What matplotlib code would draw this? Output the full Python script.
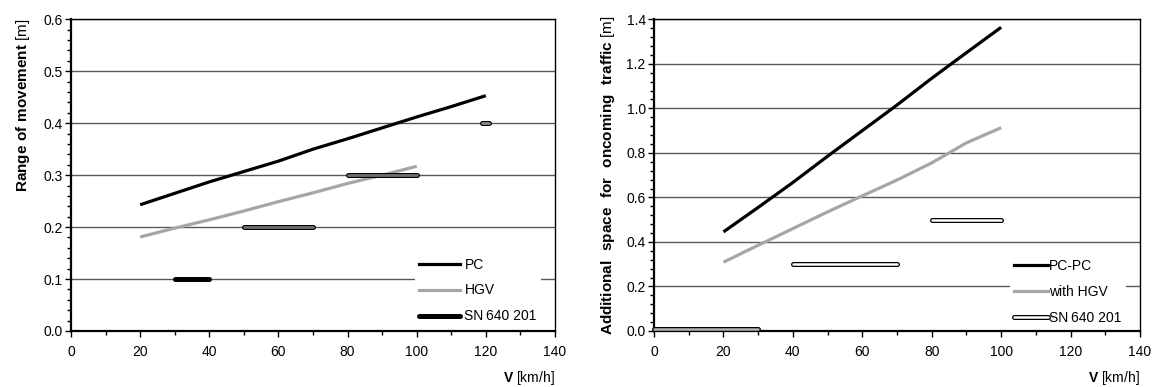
import matplotlib
matplotlib.use("Agg")
import matplotlib.pyplot as plt
import matplotlib.patheffects as pe
from matplotlib.lines import Line2D
from matplotlib.ticker import MultipleLocator, FormatStrFormatter

plt.rcParams['font.family'] = ['Liberation Sans', 'DejaVu Sans']
plt.rcParams['mathtext.fontset'] = 'custom'
plt.rcParams['mathtext.rm'] = 'Liberation Sans'
plt.rcParams['mathtext.bf'] = 'Liberation Sans:bold'

# ---------------- data ----------------
speed = [20, 30, 40, 50, 60, 70, 80, 90, 100, 110, 120]
pc_range = [0.243, 0.265, 0.287, 0.307, 0.327, 0.350, 0.370, 0.391, 0.412, 0.432, 0.453]
speed_hgv = [20, 30, 40, 50, 60, 70, 80, 90, 100]
hgv_range = [0.181, 0.198, 0.214, 0.231, 0.249, 0.266, 0.284, 0.300, 0.317]
sn_left_x0 = [30, 50, 80, 119]
sn_left_x1 = [40, 70, 100, 121]
sn_left_y = [0.1, 0.2, 0.3, 0.4]

speed_r = [20, 30, 40, 50, 60, 70, 80, 90, 100]
pcpc_space = [0.445, 0.555, 0.667, 0.785, 0.900, 1.015, 1.135, 1.250, 1.364]
hgv_space = [0.309, 0.385, 0.460, 0.535, 0.607, 0.678, 0.755, 0.845, 0.913]
sn_right_x0 = [0, 40, 80]
sn_right_x1 = [30, 70, 100]
sn_right_y = [0.01, 0.3, 0.5]

xticks = [0, 20, 40, 60, 80, 100, 120, 140]

# ---------------- figure ----------------
W, H = 1157, 387
fig = plt.figure(figsize=(W / 100, H / 100), dpi=100)
bottom = 1 - 331 / H
top = 1 - 19.3 / H
ax1 = fig.add_axes([71 / W, bottom, 484 / W, top - bottom])
ax2 = fig.add_axes([654 / W, bottom, 486 / W, top - bottom])

FS = 10
LFS = 11
GRID = '#5a5a5a'
GRAY = '#a6a6a6'


def style_axes(ax, ymax, ymajor, yminor):
    ax.set_xlim(0, 140)
    ax.set_ylim(0, ymax)
    ax.set_xticks(xticks)
    ax.xaxis.set_minor_locator(MultipleLocator(10))
    ax.yaxis.set_major_locator(MultipleLocator(ymajor))
    ax.yaxis.set_minor_locator(MultipleLocator(yminor))
    ax.yaxis.set_major_formatter(FormatStrFormatter('%.1f'))
    ax.tick_params(axis='both', which='major', direction='out', length=4, width=1,
                   labelsize=FS, pad=2, color='black')
    ax.tick_params(axis='both', which='minor', direction='out', length=3, width=1,
                   color='black')
    ax.tick_params(axis='x', which='major', pad=6)
    ax.grid(axis='y', which='major', color=GRID, lw=1.0, zorder=0)
    ax.set_axisbelow(True)
    for s in ['left', 'bottom']:
        ax.spines[s].set_linewidth(1.6)
    for s in ['top', 'right']:
        ax.spines[s].set_linewidth(1.0)
    ax.set_xlabel(r'$\mathbf{V}$ [km/h]', fontsize=FS, loc='right', labelpad=7)


style_axes(ax1, 0.6, 0.1, 0.02)
style_axes(ax2, 1.4, 0.2, 0.04)

ax1.set_ylabel(r'$\mathbf{Range\ of\ movement}$ [m]', fontsize=LFS, labelpad=8, y=0.725)
ax2.set_ylabel(r'$\mathbf{Additional\ \ space\ \ for\ \ oncoming\ \ traffic}$ [m]',
               fontsize=LFS, labelpad=7)

# ---------------- left chart ----------------
ax1.plot(speed, pc_range, color='black', lw=2.3, zorder=4, solid_capstyle='butt')
ax1.plot(speed_hgv, hgv_range, color=GRAY, lw=2.3, zorder=3, solid_capstyle='butt')

left_fill = ['black', '#707070', '#707070', '#8a8a8a']
for x0, x1, y, fc in zip(sn_left_x0, sn_left_x1, sn_left_y, left_fill):
    ax1.plot([x0, x1], [y, y], color=fc, lw=2.0, solid_capstyle='round', zorder=5,
             path_effects=[pe.Stroke(linewidth=3.6, foreground='black'), pe.Normal()])

h_pc = Line2D([], [], color='black', lw=2.3)
h_hgv = Line2D([], [], color=GRAY, lw=2.3)
h_sn = Line2D([], [], color='black', lw=3.6, solid_capstyle='round')
leg1 = ax1.legend([h_pc, h_hgv, h_sn], ['PC', 'HGV', 'SN\u2009640 201'],
                  loc='center left', bbox_to_anchor=(0.711, 0.13),
                  fontsize=FS, frameon=True, facecolor='white', edgecolor='none',
                  framealpha=1, fancybox=False, borderpad=0.3, borderaxespad=0,
                  handlelength=2.9, handletextpad=0.35, labelspacing=0.86)

# ---------------- right chart ----------------
ax2.plot(speed_r, pcpc_space, color='black', lw=2.3, zorder=4, solid_capstyle='butt')
ax2.plot(speed_r, hgv_space, color=GRAY, lw=2.3, zorder=3, solid_capstyle='butt')

right_fill = ['#b4b4b4', 'white', 'white']
for x0, x1, y, fc in zip(sn_right_x0, sn_right_x1, sn_right_y, right_fill):
    ax2.plot([x0, x1], [y, y], color=fc, lw=1.8, solid_capstyle='round', zorder=5,
             path_effects=[pe.Stroke(linewidth=3.6, foreground='black'), pe.Normal()],
             clip_on=False)

h_pcpc = Line2D([], [], color='black', lw=2.3)
h_whgv = Line2D([], [], color=GRAY, lw=2.3)
h_sn2 = Line2D([], [], color='white', lw=1.8, solid_capstyle='round',
               path_effects=[pe.Stroke(linewidth=3.6, foreground='black'), pe.Normal()])
leg2 = ax2.legend([h_pcpc, h_whgv, h_sn2], ['PC-PC', 'with HGV', 'SN\u2009640 201'],
                  loc='center left', bbox_to_anchor=(0.733, 0.125),
                  fontsize=FS, frameon=True, facecolor='white', edgecolor='none',
                  framealpha=1, fancybox=False, borderpad=0.3, borderaxespad=0,
                  handlelength=2.4, handletextpad=0.1, labelspacing=0.86)

fig.savefig('out.png', dpi=100)
